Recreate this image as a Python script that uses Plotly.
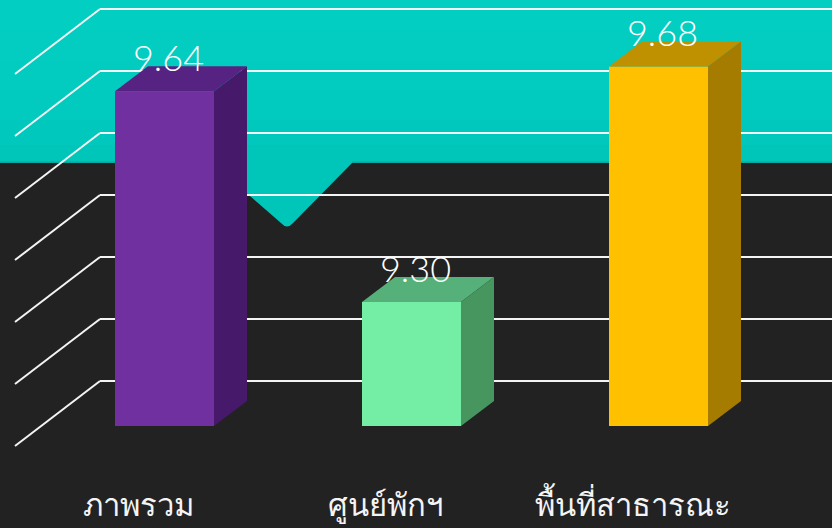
import plotly.graph_objects as go

categories = ["ภาพรวม", "ศูนย์พักฯ", "พื้นที่สาธารณะ"]
values = [9.64, 9.30, 9.68]
value_labels = ["9.64", "9.30", "9.68"]
front_colors = ["#7030A0", "#75EEA5", "#FFC000"]
top_colors = ["#572382", "#55B07A", "#BF9000"]
side_colors = ["#46196B", "#47965F", "#A67C00"]
grid_values = [9.1, 9.2, 9.3, 9.4, 9.5, 9.6, 9.7]
axis_base = 9.1

W, H, BOTTOM = 832, 528, 50
PLOT_H = H - BOTTOM
PX_X = 247.0      # pixels per category
PX_Y = 620.0      # pixels per value unit
X0_PX = 181.0     # pixel of first category, at mid-depth
Y0_PX = 413.5     # pixel of axis_base, at mid-depth


def xd(px):
    return (px - X0_PX) / PX_X


def yd(px):
    return axis_base + (Y0_PX - px) / PX_Y


# depth projection in data units
BAR_DX = 16.5 / PX_X
BAR_DY = 12.5 / PX_Y
WALL_DX = 42.5 / PX_X
WALL_DY = 32.5 / PX_Y
BAR_W = 99.0 / PX_X

shapes = []
# teal backdrop with notch, lightly shaded from top to bottom
py = lambda p: 1 - p / PLOT_H
px = lambda p: p / W
path = (
    f"M {px(0)} {py(-1)} L {px(832)} {py(-1)} L {px(832)} {py(163)} L {px(352)} {py(163)} "
    f"L {px(293)} {py(223)} Q {px(287)} {py(230)} {px(281)} {py(223)} "
    f"L {px(212)} {py(163)} L {px(0)} {py(163)} Z"
)
shapes.append(dict(type="path", path=path, xref="paper", yref="paper", layer="below",
                   fillcolor="#00C6BA", line=dict(width=0)))
band_edges = [-1, 30, 60, 90, 120, 145]
band_colors = ["#03CEC2", "#03CDC0", "#02CBBF", "#01CABE", "#01C8BC"]
for k, col in enumerate(band_colors):
    shapes.append(dict(type="rect", xref="paper", yref="paper", layer="below",
                       x0=0, x1=1, y0=py(band_edges[k + 1]), y1=py(band_edges[k]),
                       fillcolor=col, line=dict(width=0)))
for x_a, x_b in [(0, 212), (352, 832)]:
    shapes.append(dict(type="rect", xref="paper", yref="paper", layer="below",
                       x0=px(x_a), x1=px(x_b), y0=py(163), y1=py(161.5),
                       fillcolor="#05A99E", line=dict(width=0)))

# grid lines on the wall
GRID = "#F4F4F4"
for g in grid_values:
    shapes.append(dict(type="line", layer="below", xref="x", yref="y",
                       x0=-0.5 - WALL_DX, y0=g - WALL_DY, x1=-0.5 + WALL_DX, y1=g + WALL_DY,
                       line=dict(color=GRID, width=2)))
    shapes.append(dict(type="line", layer="below", xref="x", yref="y",
                       x0=-0.5 + WALL_DX, y0=g + WALL_DY, x1=xd(832), y1=g + WALL_DY,
                       line=dict(color=GRID, width=2)))

fig = go.Figure()
idx = list(range(len(categories)))

# front faces
fig.add_trace(go.Bar(
    x=[i - BAR_DX for i in idx],
    y=[v - axis_base for v in values],
    base=axis_base - BAR_DY,
    width=BAR_W,
    marker=dict(color=front_colors, line=dict(width=0)),
    showlegend=False,
    hoverinfo="skip",
))

# top and side faces
for i, v in enumerate(values):
    fl = i - BAR_DX - BAR_W / 2
    fr = fl + BAR_W
    yt = v - BAR_DY
    yb = axis_base - BAR_DY
    fig.add_trace(go.Scatter(
        x=[fl, fl + 2 * BAR_DX, fr + 2 * BAR_DX, fr, fl],
        y=[yt, yt + 2 * BAR_DY, yt + 2 * BAR_DY, yt, yt],
        mode="lines", fill="toself", fillcolor=top_colors[i],
        line=dict(width=0), showlegend=False, hoverinfo="skip"))
    fig.add_trace(go.Scatter(
        x=[fr, fr + 2 * BAR_DX, fr + 2 * BAR_DX, fr, fr],
        y=[yt, yt + 2 * BAR_DY, yb + 2 * BAR_DY, yb, yt],
        mode="lines", fill="toself", fillcolor=side_colors[i],
        line=dict(width=0), showlegend=False, hoverinfo="skip"))

# value labels
LABEL_FONT = "Lato Light, Lato, Open Sans, sans-serif"
fig.add_trace(go.Scatter(
    x=[i - 12.5 / PX_X for i in idx],
    y=[v - BAR_DY + 29 / PX_Y for v in values],
    mode="text", text=value_labels, textposition="middle center",
    textfont=dict(family=LABEL_FONT, size=36, color="#FFFFFF"),
    showlegend=False, hoverinfo="skip"))

fig.update_layout(
    width=W, height=H,
    margin=dict(l=0, r=0, t=0, b=BOTTOM, pad=0),
    paper_bgcolor="#222222", plot_bgcolor="rgba(0,0,0,0)",
    barmode="overlay", shapes=shapes, hovermode=False,
    xaxis=dict(range=[xd(0), xd(832)], showgrid=False, zeroline=False, showline=False,
               automargin=False,
               tickmode="array", tickvals=[i - WALL_DX for i in idx], ticktext=categories,
               ticks="", ticklen=0, ticklabelstandoff=6,
               tickfont=dict(family=LABEL_FONT, size=31, weight=300, color="#F4F4F4"),
               fixedrange=True),
    yaxis=dict(range=[yd(PLOT_H), yd(0)], showgrid=False, zeroline=False, showline=False,
               automargin=False, showticklabels=False, fixedrange=True),
)
fig.write_html("out.html", config=dict(displayModeBar=False),
               post_script="document.body.style.margin='0';")
